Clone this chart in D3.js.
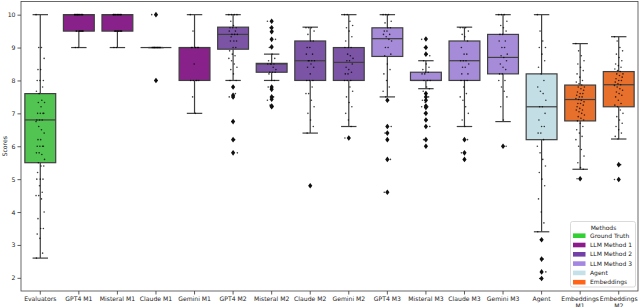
<!DOCTYPE html>
<html>
<head>
<meta charset="utf-8">
<script src="https://cdn.jsdelivr.net/npm/d3@7"></script>
<style>
  body { margin: 0; background: #fff; }
  text { font-family: "DejaVu Sans", sans-serif; fill: #222; }
</style>
</head>
<body>
<svg width="640" height="307"></svg>
<script>
// categories on the x axis
var categories = ['Evaluators', 'GPT4 M1', 'Misteral M1', 'Claude M1', 'Gemini M1',
  'GPT4 M2', 'Misteral M2', 'Claude M2', 'Gemini M2',
  'GPT4 M3', 'Misteral M3', 'Claude M3', 'Gemini M3',
  'Agent', 'Embeddings M1', 'Embeddings M2'];

// legend groups and which group every category belongs to
var groups = ['Ground Truth', 'LLM Method 1', 'LLM Method 2', 'LLM Method 3', 'Agent', 'Embeddings'];
var groupOf = [0, 1, 1, 1, 1, 2, 2, 2, 2, 3, 3, 3, 3, 4, 5, 5];
var legendColors = ['#33d033', '#8c1c8c', '#7340a8', '#a487e0', '#c4e0e8', '#ff6419'];
var boxColors = ['#52c452', '#88228a', '#7b54a6', '#a68bd8', '#c3dee5', '#e8702d'];

// box statistics
var whiskLo = [2.6, 9, 9, 9, 7, 8.0, 8.0, 6.4, 6.6, 7.5, 7.75, 6.6, 6.75, 3.4, 5.3, 6.22];
var q1 =      [5.5, 9.5, 9.5, 9, 8, 8.95, 8.25, 8.0, 8.0, 8.73, 8.0, 8.0, 8.2, 6.2, 6.77, 7.2];
var median =  [6.8, 10, 10, 9, 9, 9.4, 8.5, 8.6, 8.55, 9.27, 8.0, 8.6, 8.7, 7.2, 7.42, 7.87];
var q3 =      [7.6, 10, 10, 9, 9, 9.62, 8.52, 9.2, 9.0, 9.6, 8.25, 9.2, 9.4, 8.2, 7.86, 8.27];
var whiskHi = [10, 10, 10, 9, 10, 10, 8.8, 9.62, 10, 10, 8.6, 9.62, 10, 10, 9.12, 9.33];

var outliers = [
  [], [], [], [10, 8], [],
  [7.8, 7.55, 7.5, 6.75, 6.2, 5.8],
  [9.8, 9.6, 9.48, 9.25, 9.02, 7.8, 7.73, 7.5, 7.43, 7.22, 7.2],
  [4.8],
  [6.25],
  [7.4, 6.6, 6.4, 6.2, 5.6, 4.6],
  [9.26, 9.0, 8.8, 7.6, 7.5, 7.4, 7.22, 7.18, 7.0, 6.8, 6.6, 6.2, 6.0],
  [6.2, 5.8, 5.6],
  [6.0],
  [3.16, 2.57, 2.18, 1.98],
  [5.01],
  [5.44, 4.99]
];

// individual scores (strip points)
var points = [
  [10, 9, 9, 8.67, 8.33, 8.33, 8, 8, 8, 7.8, 7.67, 7.6, 7.4, 7.33, 7.33, 7.2, 7, 7, 7, 7, 6.8, 6.8, 6.8, 6.75,
   6.6, 6.5, 6.4, 6.2, 6.2, 6, 6, 6, 6, 5.8, 5.8, 5.75, 5.6, 5.5, 5.4, 5.4, 5.2, 5, 5, 5, 4.8, 4.6, 4.5, 4.5,
   4.4, 4, 3.8, 3.5, 3.5, 3.33, 3.2, 2.75, 2.6],
  [10, 10, 10, 10, 10, 10, 10, 10, 10, 10, 10, 10, 9.5, 9.5, 9.5, 9.5, 9.5, 9.5, 9.5, 9.5, 9, 9],
  [10, 10, 10, 10, 10, 10, 10, 10, 10, 10, 10, 9.5, 9.5, 9.5, 9.5, 9.5, 9.5, 9.5, 9.5, 9.5, 9, 9],
  [10, 9, 9, 9, 9, 9, 9, 9, 9, 9, 9, 9, 9, 9, 9, 8],
  [10, 9.5, 9, 9, 9, 9, 9, 9, 8.5, 8, 8, 8, 8, 8, 7.5, 7],
  [10, 10, 10, 10, 9.8, 9.67, 9.6, 9.6, 9.6, 9.5, 9.5, 9.4, 9.4, 9.4, 9.33, 9.2, 9.2, 9.2, 9.0, 9.0, 8.9,
   8.8, 8.75, 8.67, 8.6, 8.5, 8.4, 8.33, 8.2, 8.0, 8.0, 7.8, 7.6, 7.5, 6.75, 6.2, 5.8],
  [9.8, 9.6, 9.5, 9.25, 9.0, 8.8, 8.67, 8.6, 8.5, 8.5, 8.5, 8.5, 8.4, 8.33, 8.25, 8.25, 8.25, 8.2, 8.0, 8.0,
   7.8, 7.75, 7.5, 7.4, 7.25, 7.2],
  [9.6, 9.6, 9.6, 9.5, 9.4, 9.2, 9.2, 9.0, 9.0, 8.8, 8.8, 8.6, 8.6, 8.6, 8.6, 8.5, 8.4, 8.4, 8.2, 8.0, 8.0,
   8.0, 7.8, 7.6, 7.6, 7.4, 7.2, 7.0, 6.8, 6.6, 6.4, 4.8],
  [10, 10, 9.8, 9.67, 9.6, 9.5, 9.33, 9.2, 9.0, 9.0, 9.0, 8.8, 8.75, 8.67, 8.6, 8.6, 8.5, 8.4, 8.33, 8.25,
   8.2, 8.2, 8.0, 8.0, 8.0, 7.8, 7.67, 7.5, 7.33, 7.2, 7.0, 6.8, 6.6, 6.25],
  [10, 10, 10, 9.8, 9.75, 9.6, 9.6, 9.5, 9.5, 9.4, 9.4, 9.33, 9.25, 9.2, 9.0, 9.0, 8.8, 8.75, 8.5, 8.33,
   8.2, 8.0, 7.8, 7.67, 7.5, 7.4, 6.6, 6.4, 6.2, 5.6, 4.6],
  [9.25, 9.0, 8.8, 8.75, 8.6, 8.5, 8.4, 8.33, 8.25, 8.25, 8.2, 8.2, 8.0, 8.0, 8.0, 7.8, 7.75, 7.67, 7.6,
   7.5, 7.4, 7.33, 7.2, 7.2, 7.0, 6.8, 6.6, 6.2, 6.0],
  [9.6, 9.6, 9.6, 9.5, 9.4, 9.33, 9.2, 9.0, 8.8, 8.8, 8.6, 8.6, 8.6, 8.5, 8.4, 8.4, 8.2, 8.2, 8.0, 8.0,
   8.0, 7.8, 7.6, 7.5, 7.4, 7.2, 7.0, 6.8, 6.6, 6.2, 5.8, 5.6],
  [10, 10, 10, 9.8, 9.67, 9.6, 9.5, 9.4, 9.4, 9.2, 9.2, 9.0, 9.0, 8.8, 8.75, 8.7, 8.6, 8.5, 8.4, 8.33,
   8.2, 8.2, 8.0, 8.0, 7.8, 7.67, 7.5, 7.2, 6.8, 6.0],
  [10, 9.5, 9.2, 9.0, 9.0, 8.8, 8.6, 8.4, 8.2, 8.0, 7.8, 7.67, 7.6, 7.4, 7.2, 7.2, 7.0, 6.8, 6.6, 6.6,
   6.4, 6.4, 6.2, 6.0, 5.8, 5.6, 5.4, 5.2, 5.0, 4.8, 4.4, 4.0, 3.67, 3.4, 3.16, 2.57, 2.18, 1.98],
  [9.12, 8.9, 8.75, 8.6, 8.5, 8.4, 8.3, 8.2, 8.1, 8.0, 7.95, 7.9, 7.86, 7.8, 7.8, 7.75, 7.7, 7.65, 7.6,
   7.6, 7.55, 7.5, 7.5, 7.45, 7.42, 7.4, 7.35, 7.3, 7.3, 7.25, 7.2, 7.15, 7.1, 7.1, 7.05, 7.0, 6.95, 6.9,
   6.85, 6.8, 6.77, 6.7, 6.6, 6.5, 6.4, 6.3, 6.2, 6.0, 5.9, 5.7, 5.5, 5.35, 5.3, 5.01],
  [9.33, 9.2, 9.0, 8.9, 8.8, 8.7, 8.6, 8.5, 8.45, 8.4, 8.35, 8.3, 8.27, 8.2, 8.2, 8.15, 8.1, 8.05, 8.0,
   8.0, 7.95, 7.9, 7.87, 7.85, 7.8, 7.75, 7.7, 7.65, 7.6, 7.55, 7.5, 7.4, 7.3, 7.25, 7.2, 7.1, 7.0, 6.9,
   6.8, 6.7, 6.6, 6.5, 6.4, 6.3, 6.22, 5.44, 4.99]
];

var yTicks = [2, 3, 4, 5, 6, 7, 8, 9, 10];

// plot area
var margin = { top: 1.5, right: 2, bottom: 16, left: 21 };
var W = 640, H = 307;
var svg = d3.select('svg');

var x = d3.scaleBand().domain(categories).range([margin.left, W - margin.right]).padding(0);
var y = d3.scaleLinear().domain([1.6, 10.4]).range([H - margin.bottom, margin.top]);

var bw = x.bandwidth();
var boxW = bw * 0.8;
var edge = '#3f3f3f';

// y axis
var yAxis = d3.axisLeft(y).tickValues(yTicks).tickSize(3.5).tickPadding(2).tickFormat(d3.format('d'));
svg.append('g')
    .attr('transform', 'translate(' + margin.left + ',0)')
    .call(yAxis)
    .call(function(g) { g.select('.domain').remove(); })
    .call(function(g) {
      g.selectAll('line').attr('stroke', '#333').attr('stroke-width', 0.8);
      g.selectAll('text').style('font-size', '6.2px').style('fill', '#222');
    });

// x axis, the two long labels wrap onto a second line
var xAxis = d3.axisBottom(x).tickSize(3.5).tickPadding(2);
var xg = svg.append('g')
    .attr('transform', 'translate(0,' + (H - margin.bottom) + ')')
    .call(xAxis)
    .call(function(g) { g.select('.domain').remove(); });
xg.selectAll('line').attr('stroke', '#333').attr('stroke-width', 0.8);
xg.selectAll('text').style('font-size', '6.1px').style('fill', '#222')
  .each(function(d) {
    var t = d3.select(this);
    if (d.indexOf('Embeddings') === 0) {
      var parts = d.split(' ');
      t.text(null);
      t.append('tspan').attr('x', 0).text(parts[0]);
      t.append('tspan').attr('x', 0).attr('dy', '1.1em').text(parts[1]);
    }
  });

// y label
svg.append('text')
    .attr('transform', 'translate(5.5,' + ((margin.top + H - margin.bottom) / 2) + ') rotate(-90)')
    .attr('text-anchor', 'middle')
    .attr('dominant-baseline', 'middle')
    .style('font-size', '6.2px')
    .text('Scores');

// boxes
var boxes = svg.append('g').selectAll('g')
    .data(categories)
    .enter().append('g')
    .attr('transform', function(d) { return 'translate(' + (x(d) + bw / 2) + ',0)'; });

boxes.append('line')
    .attr('x1', 0).attr('x2', 0)
    .attr('y1', function(d, i) { return y(whiskLo[i]); })
    .attr('y2', function(d, i) { return y(q1[i]); })
    .attr('stroke', edge).attr('stroke-width', 1.2);
boxes.append('line')
    .attr('x1', 0).attr('x2', 0)
    .attr('y1', function(d, i) { return y(q3[i]); })
    .attr('y2', function(d, i) { return y(whiskHi[i]); })
    .attr('stroke', edge).attr('stroke-width', 1.2);
boxes.append('line')
    .attr('x1', -boxW / 4).attr('x2', boxW / 4)
    .attr('y1', function(d, i) { return y(whiskLo[i]); })
    .attr('y2', function(d, i) { return y(whiskLo[i]); })
    .attr('stroke', edge).attr('stroke-width', 1.2);
boxes.append('line')
    .attr('x1', -boxW / 4).attr('x2', boxW / 4)
    .attr('y1', function(d, i) { return y(whiskHi[i]); })
    .attr('y2', function(d, i) { return y(whiskHi[i]); })
    .attr('stroke', edge).attr('stroke-width', 1.2);
boxes.append('rect')
    .attr('x', -boxW / 2)
    .attr('width', boxW)
    .attr('y', function(d, i) { return y(q3[i]); })
    .attr('height', function(d, i) { return Math.max(0, y(q1[i]) - y(q3[i])); })
    .attr('fill', function(d, i) { return boxColors[groupOf[i]]; })
    .attr('stroke', edge).attr('stroke-width', 1.2);
boxes.append('line')
    .attr('x1', -boxW / 2).attr('x2', boxW / 2)
    .attr('y1', function(d, i) { return y(median[i]); })
    .attr('y2', function(d, i) { return y(median[i]); })
    .attr('stroke', edge).attr('stroke-width', 1.2);

// outliers as diamonds
boxes.each(function(d, i) {
  d3.select(this).selectAll('.flier')
    .data(outliers[i])
    .enter().append('path')
    .attr('class', 'flier')
    .attr('d', 'M0,-2.8L2.1,0L0,2.8L-2.1,0Z')
    .attr('transform', function(v) { return 'translate(0,' + y(v) + ')'; })
    .attr('fill', '#111');
});

// strip points with a fixed jitter
boxes.each(function(d, i) {
  d3.select(this).selectAll('.pt')
    .data(points[i])
    .enter().append('circle')
    .attr('class', 'pt')
    .attr('cx', function(v, j) { return (((j * 7919) % 23) / 22 - 0.5) * bw * 0.22; })
    .attr('cy', function(v) { return y(v); })
    .attr('r', 0.8)
    .attr('fill', '#000')
    .attr('fill-opacity', 0.75);
});

// frame
svg.append('rect')
    .attr('x', margin.left).attr('y', margin.top)
    .attr('width', W - margin.left - margin.right)
    .attr('height', H - margin.top - margin.bottom)
    .attr('fill', 'none').attr('stroke', '#444').attr('stroke-width', 0.8);

// legend
var lg = svg.append('g').attr('transform', 'translate(570.5,221.5)');
lg.append('rect')
    .attr('width', 65).attr('height', 65.5).attr('rx', 2)
    .attr('fill', '#fff').attr('fill-opacity', 0.85)
    .attr('stroke', '#d0d0d0').attr('stroke-width', 0.8);
lg.append('text')
    .attr('x', 33).attr('y', 8)
    .attr('text-anchor', 'middle')
    .style('font-size', '6px')
    .text('Methods');
var items = lg.selectAll('.item')
    .data(groups)
    .enter().append('g')
    .attr('class', 'item')
    .attr('transform', function(d, i) { return 'translate(0,' + (14.2 + i * 9.3) + ')'; });
items.append('rect')
    .attr('x', 2.5).attr('y', -2.3).attr('width', 12.5).attr('height', 4.6)
    .attr('fill', function(d, i) { return legendColors[i]; });
items.append('text')
    .attr('x', 19.5).attr('y', 2.1)
    .style('font-size', '6px')
    .text(function(d) { return d; });
</script>
</body>
</html>
